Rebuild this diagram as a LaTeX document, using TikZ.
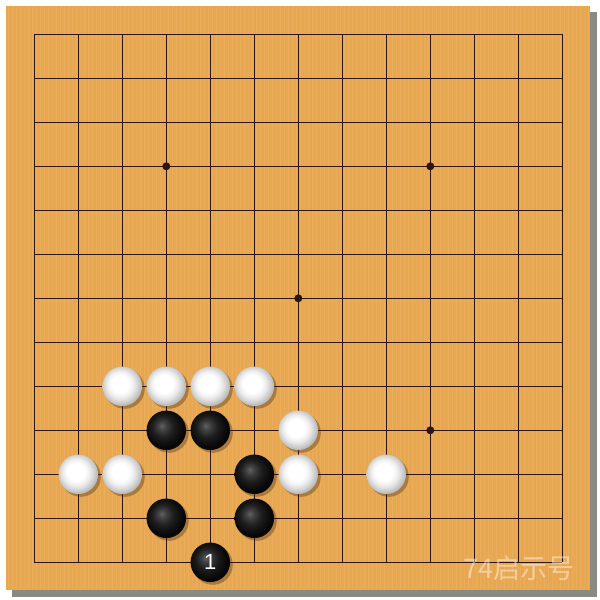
\documentclass[tikz,border=0pt]{standalone}
\usepackage{fontspec}
\newfontfamily\cjk{Noto Sans CJK SC}
\newfontfamily\lab{Liberation Sans}
\definecolor{wood}{HTML}{E9A74F}
\definecolor{gridc}{HTML}{2E1510}
\definecolor{shadowc}{HTML}{8A8A80}
\pgfdeclareradialshading{blackstone}{\pgfpoint{-6bp}{6bp}}{color(0bp)=(black!62); color(6bp)=(black!76); color(14bp)=(black!89); color(24bp)=(black!97); color(50bp)=(black)}
\pgfdeclareradialshading{whitestone}{\pgfpoint{-4bp}{4bp}}{color(0bp)=(white); color(11bp)=(white); color(17bp)=(white!93!black); color(23bp)=(white!80!black); color(29bp)=(white!66!black); color(50bp)=(white!60!black)}
\tikzset{
  gridline/.style={draw=gridc, line width=1.2pt},
  star/.style={circle, fill=gridc, inner sep=0pt, minimum size=8pt},
  stshadow/.style={circle, fill=black!70!brown, opacity=0.35, inner sep=0pt, minimum size=40pt},
  bstone/.style={circle, shading=blackstone, inner sep=0pt, minimum size=39.5pt, text=white, font=\lab\fontsize{22}{22}\selectfont},
  wstone/.style={circle, shading=whitestone, inner sep=0pt, minimum size=39.5pt},
}
\begin{document}
\begin{tikzpicture}[x=1pt,y=-1pt]
\useasboundingbox (0,0) rectangle (600,600);
\fill[white] (0,0) rectangle (600,600);
\fill[shadowc] (12,12) rectangle (597,597);
\fill[wood] (6,6) rectangle (590,590);
% faint grain
\foreach \g in {8,12,...,588} {
  \draw[white, opacity=0.07, line width=1pt] (\g,6) -- (\g,590);
}
\foreach \g in {10,17,...,588} {
  \draw[brown, opacity=0.06, line width=0.8pt] (\g,6) -- (\g,590);
}
% grid
\foreach \i in {0,...,12} {
  \draw[gridline] ({34.3+44*\i},34.3) -- ({34.3+44*\i},562.3);
  \draw[gridline] (34.3,{34.3+44*\i}) -- (562.3,{34.3+44*\i});
}
\foreach \c/\r [count=\k] in {3/3,9/3,6/6,9/9,3/9} {
  \node[star] (s\k) at ({34.3+44*\c},{34.3+44*\r}) {};
}
% stones: column/row (0-based)
\foreach \c/\r [count=\k] in {2/8,3/8,4/8,5/8,6/9,1/10,2/10,6/10,8/10} {
  \node[stshadow] at ({36.8+44*\c},{36.8+44*\r}) {};
  \node[wstone] (w\k) at ({34.3+44*\c},{34.3+44*\r}) {};
}
\foreach \c/\r [count=\k] in {3/9,4/9,5/10,3/11,5/11} {
  \node[stshadow] at ({36.8+44*\c},{36.8+44*\r}) {};
  \node[bstone] (b\k) at ({34.3+44*\c},{34.3+44*\r}) {};
}
\node[stshadow] at ({36.8+44*4},{36.8+44*12}) {};
\node[bstone] (m1) at ({34.3+44*4},{34.3+44*12}) {1};
% watermark
\node[text=white, opacity=0.45, font=\cjk\fontsize{27}{27}\selectfont, anchor=center] (wm) at (519,568) {74启示号};
\end{tikzpicture}
\end{document}
